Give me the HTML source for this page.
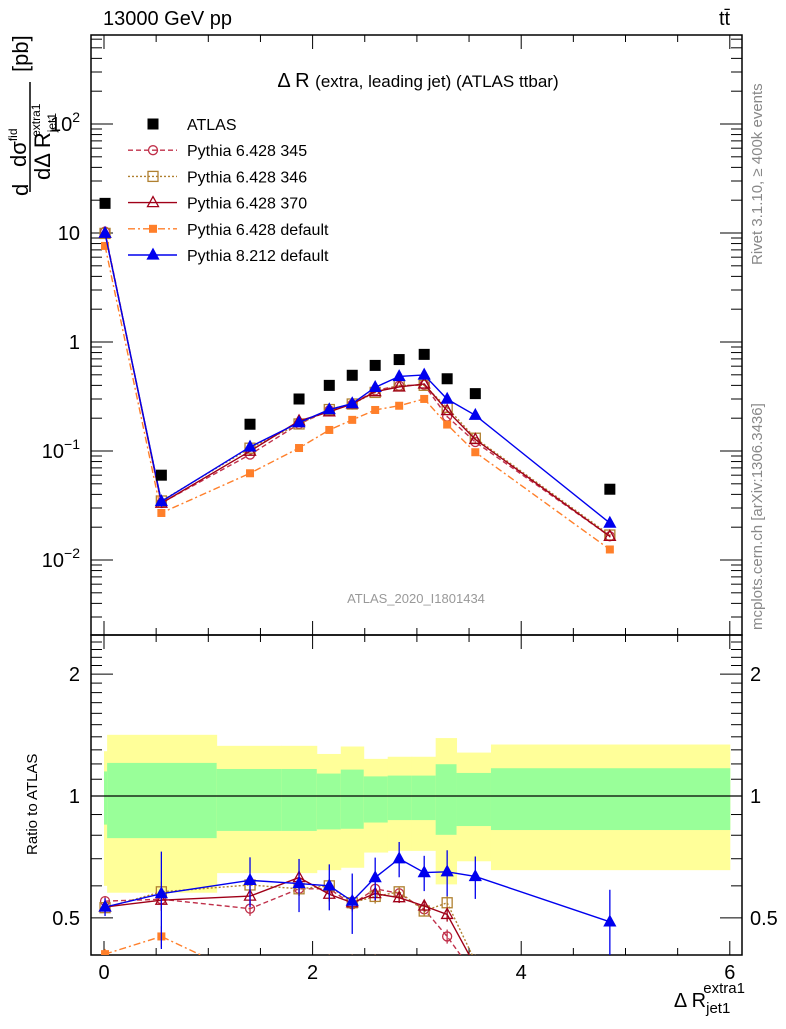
<!DOCTYPE html>
<html><head><meta charset="utf-8"><style>
body{margin:0;background:#fff;}
svg{font-family:"Liberation Sans",sans-serif;}
</style></head><body>
<svg id="c" width="786" height="1024" viewBox="0 0 786 1024" xmlns="http://www.w3.org/2000/svg">
<text x="103" y="25" font-size="20">13000 GeV pp</text>
<text x="719" y="25" font-size="20">tt̄</text>
<text x="418" y="87" font-size="20" text-anchor="middle">Δ R <tspan font-size="17">(extra, leading jet) (ATLAS ttbar)</tspan></text>
<text x="416" y="603" font-size="13" fill="#999" text-anchor="middle">ATLAS_2020_I1801434</text>
<text transform="translate(762,265) rotate(-90)" font-size="15" fill="#888">Rivet 3.1.10, ≥ 400k events</text>
<text transform="translate(762,630) rotate(-90)" font-size="15" fill="#888">mcplots.cern.ch [arXiv:1306.3436]</text>
<g font-size="22">
<text transform="translate(28,196) rotate(-90)">d</text>
<text transform="translate(26,167) rotate(-90)">dσ<tspan font-size="12" dy="-9">fid</tspan></text>
<line x1="30" y1="82" x2="30" y2="192" stroke="#000" stroke-width="1.5"/>
<text transform="translate(50,180) rotate(-90)">dΔ R<tspan font-size="12" dy="6">jet1</tspan><tspan font-size="12" dx="-24" dy="-16">extra1</tspan></text>
<text transform="translate(28,72) rotate(-90)">[pb]</text>
</g>
<text transform="translate(37,855) rotate(-90)" font-size="15">Ratio to ATLAS</text>
<text x="745" y="1007" font-size="20" text-anchor="end">Δ R<tspan font-size="15" dy="6">jet1</tspan><tspan font-size="15" dx="-27" dy="-20">extra1</tspan></text>
<g id="g"></g>
</svg>
<script>
const xs = [0.01,0.55,1.40,1.87,2.16,2.38,2.60,2.83,3.07,3.29,3.56,4.85];
const binEdges = [0,0.03,1.08,1.7,2.04,2.27,2.49,2.72,2.95,3.18,3.38,3.71,6.0];
const atlas = [18.7,0.060,0.176,0.30,0.40,0.495,0.61,0.69,0.77,0.46,0.336,0.0446];
const bandYelUp = [1.29,1.416,1.33,1.33,1.27,1.325,1.235,1.25,1.25,1.39,1.28,1.34];
const bandYelDn = [0.60,0.577,0.645,0.645,0.656,0.665,0.725,0.732,0.732,0.605,0.69,0.656];
const bandGrnUp = [1.15,1.207,1.166,1.166,1.136,1.162,1.118,1.123,1.123,1.198,1.14,1.171];
const bandGrnDn = [0.85,0.787,0.82,0.82,0.827,0.83,0.86,0.872,0.872,0.802,0.843,0.824];
const r345 = [0.55,0.556,0.527,0.59,0.59,0.54,0.59,0.575,0.525,0.45,0.36,0.37];
const r346 = [0.53,0.58,0.603,0.59,0.60,0.545,0.565,0.58,0.52,0.545,0.39,0.38];
const r370 = [0.532,0.553,0.566,0.629,0.572,0.545,0.574,0.561,0.535,0.51,0.38,0.37];
const rDef6 = [0.407,0.45,0.355,0.355,0.39,0.39,0.39,0.377,0.39,0.38,0.29,0.28];
const rP8 = [0.532,0.574,0.619,0.608,0.60,0.55,0.629,0.70,0.647,0.65,0.633,0.489];
const errP8 = [0.05,0.27,0.14,0.15,0.13,0.17,0.12,0.10,0.10,0.13,0.12,0.2];
const errOther = [0.03,0.06,0.04,0.04,0.04,0.04,0.04,0.03,0.03,0.04,0.04,0.05];
const xTicks = ["0","2","4","6"];
const mainTicks = ["10^-2","10^-1","1","10","10^2"];
const ratioTicks = ["0.5","1","2"];

const NS="http://www.w3.org/2000/svg";
const L=91,R=742,T=35,MB=635,RB=955;
const X=v=>104+v*104.3;
const YM=v=>342-Math.log10(v)*109;
const YR=v=>796-Math.log10(v)*405;
const g=document.getElementById('g');
function el(t,a,p){const e=document.createElementNS(NS,t);for(const k in a)e.setAttribute(k,a[k]);(p||g).appendChild(e);return e;}
const defs=el('defs',{});
const c1=el('clipPath',{id:'cm'},defs);el('rect',{x:L,y:T,width:R-L,height:MB-T},c1);
const c2=el('clipPath',{id:'cr'},defs);el('rect',{x:L,y:MB,width:R-L,height:RB-MB},c2);
const bg=el('g',{'clip-path':'url(#cr)'});


for(let i=0;i<xs.length;i++){
  const x1=X(binEdges[i]),x2=X(binEdges[i+1]);
  const y=el('rect',{x:x1,y:YR(bandYelUp[i]),width:x2-x1+0.5,height:YR(bandYelDn[i])-YR(bandYelUp[i]),fill:'#ffff99'},bg);
  
  
  const gr=el('rect',{x:x1,y:YR(bandGrnUp[i]),width:x2-x1+0.5,height:YR(bandGrnDn[i])-YR(bandGrnUp[i]),fill:'#99ff99'},bg);
  
  
}
el('line',{x1:L,x2:R,y1:YR(1),y2:YR(1),stroke:'#000','stroke-width':1.2});
el('rect',{x:L,y:T,width:R-L,height:MB-T,fill:'none',stroke:'#000','stroke-width':1.5});
el('rect',{x:L,y:MB,width:R-L,height:RB-MB,fill:'none',stroke:'#000','stroke-width':1.5});
for(let v=0;v<=6.01;v+=0.5){
  const maj=Math.abs(v-Math.round(v/2)*2)<0.01, len=maj?14:7;
  [[T,1],[MB,-1],[MB,1],[RB,-1]].forEach(([y0,d])=>el('line',{x1:X(v),x2:X(v),y1:y0,y2:y0+d*len,stroke:'#000'}));
}
xTicks.forEach(t=>{const e=el('text',{x:X(+t),y:979,'font-size':20,'text-anchor':'middle'});e.textContent=t;

});
for(let d=-3;d<=2;d++)for(let m=1;m<10;m++){const v=m*Math.pow(10,d),y=YM(v);if(y<T||y>MB)continue;
  const len=m==1?22:11;el('line',{x1:L,x2:L+len,y1:y,y2:y,stroke:'#000'});el('line',{x1:R,x2:R-len,y1:y,y2:y,stroke:'#000'});}
mainTicks.forEach(t=>{const p=t.split('^');const v=p.length>1?Math.pow(+p[0],+p[1]):+t;
  const e=el('text',{x:80,y:YM(v)+7,'font-size':20,'text-anchor':'end'});
  
  
  if(p.length>1){e.textContent=p[0];const s=el('tspan',{dy:-9,'font-size':14},e);s.textContent=p[1].replace('-','−');}else e.textContent=t;});
for(let v=0.4;v<=2.5;v+=0.1){const y=YR(v);if(y<MB||y>RB)continue;const maj=[0.5,1,2].some(q=>Math.abs(q-v)<1e-6);const len=maj?22:11;
  el('line',{x1:L,x2:L+len,y1:y,y2:y,stroke:'#000'});el('line',{x1:R,x2:R-len,y1:y,y2:y,stroke:'#000'});}
ratioTicks.forEach(t=>{[[80,'end'],[750,'start']].forEach(([x,a])=>{const e=el('text',{x:x,y:YR(+t)+7,'font-size':20,'text-anchor':a});e.textContent=t;

});});
const series=[
 {n:'pythia6-345',r:r345,c:'#c0304a',d:'5,3',m:'circle',e:errOther},
 {n:'pythia6-346',r:r346,c:'#b08030',d:'2,2',m:'square',e:errOther},
 {n:'pythia6-370',r:r370,c:'#a00018',d:'',m:'tri',e:errOther},
 {n:'pythia6-default',r:rDef6,c:'#ff7f2a',d:'7,3,2,3',m:'fsq',e:errOther},
 {n:'pythia8-default',r:rP8,c:'#0000ee',d:'',m:'ftri',e:errP8}];
function marker(p,m,c,x,y){
  if(m=='circle')return el('circle',{cx:x,cy:y,r:4.5,fill:'none',stroke:c,'stroke-width':1.3},p);
  if(m=='square')return el('rect',{x:x-5,y:y-5,width:10,height:10,fill:'none',stroke:c,'stroke-width':1.3},p);
  if(m=='fsq')return el('rect',{x:x-4,y:y-4,width:8,height:8,fill:c},p);
  if(m=='atl')return el('rect',{x:x-5.5,y:y-5.5,width:11,height:11,fill:'#000'},p);
  const t=`${x},${y-6} ${x-5.5},${y+4} ${x+5.5},${y+4}`;
  return el('polygon',{points:t,fill:m=='ftri'?c:'none',stroke:c,'stroke-width':1.3},p);
}
function draw(panel,clip,Yf,vals,s){
  const grp=el('g',{'clip-path':`url(#${clip})`});
  
  
  el('polyline',{points:xs.map((x,i)=>X(x)+','+Yf(vals[i])).join(' '),fill:'none',stroke:s.c,'stroke-width':1.4,'stroke-dasharray':s.d},grp);
  xs.forEach((x,i)=>{const v=vals[i],e=s.e[i]*(panel=='main'?0.4:1)*v;
    el('line',{x1:X(x),x2:X(x),y1:Yf(v+e),y2:Yf(Math.max(v-e,1e-5)),stroke:s.c,'stroke-width':1.3},grp);
    const mk=marker(grp,s.m,s.c,X(x),Yf(v));
    
    });
}
series.forEach(s=>{draw('main','cm',YM,s.r.map((r,i)=>r*atlas[i]),s);draw('ratio','cr',YR,s.r,s);});
const ag=el('g',{'clip-path':'url(#cm)'});


xs.forEach((x,i)=>{const m=marker(ag,'atl','#000',X(x),YM(atlas[i]));

});
const leg=el('g',{});


const names=['ATLAS','Pythia 6.428 345','Pythia 6.428 346','Pythia 6.428 370','Pythia 6.428 default','Pythia 8.212 default'];
names.forEach((nm,i)=>{const y=124+i*26.2;
  const it=el('g',{},leg);
  
  
  if(i==0)marker(it,'atl','#000',153,y);else{const s=series[i-1];
    el('line',{x1:128,x2:177,y1:y,y2:y,stroke:s.c,'stroke-width':1.4,'stroke-dasharray':s.d},it);marker(it,s.m,s.c,153,y);}
  const t=el('text',{x:187,y:y+6,'font-size':16},it);t.textContent=nm;});
</script>
</body></html>
